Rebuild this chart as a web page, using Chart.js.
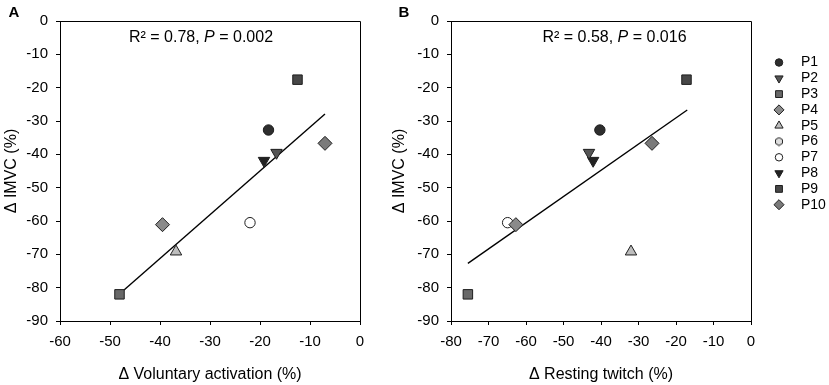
<!DOCTYPE html>
<html>
<head>
<meta charset="utf-8">
<script src="https://cdn.jsdelivr.net/npm/chart.js@4/dist/chart.umd.min.js"></script>
<style>
body{margin:0;background:#fff;width:829px;height:385px;position:relative;overflow:hidden;}
#chartA{position:absolute;left:0;top:0;}
#chartB{position:absolute;left:388px;top:0;}
</style>
</head>
<body>
<canvas id="chartA" width="388" height="385"></canvas>
<canvas id="chartB" width="441" height="385"></canvas>
<script>
// values
let participants = ["P1", "P2", "P3", "P4", "P5", "P6", "P7", "P8", "P9", "P10"];
let imvc = [-32.7, -39.5, -82.0, -61.1, -69.2, null, -60.5, -41.9, -17.6, -36.7];
let voluntaryActivation = [-18.3, -16.7, -48.1, -39.5, -36.8, null, -22.0, -19.2, -12.5, -7.0];
let restingTwitch = [-40.3, -43.2, -75.5, -62.7, -32.0, null, -64.9, -42.1, -17.2, -26.4];
let fitA_x = [-47.2, -7.0];
let fitA_y = [-80.7, -27.9];
let fitB_x = [-75.5, -17.0];
let fitB_y = [-72.7, -26.7];
let rSquared = ["0.78", "0.58"];
let pValues = ["0.002", "0.016"];
let yTicks = [0, -10, -20, -30, -40, -50, -60, -70, -80, -90];

// marker styles per participant
let fills = ["#2e2e2e", "#555555", "#686868", "#8a8a8a", "#bdbdbd", "#dedede", "#ffffff", "#222222", "#474747", "#7a7a7a"];
let shapes = ["circle", "triangle", "rect", "rectRot", "triangle", "hex", "circle", "triangle", "rect", "rectRot"];
let turns = [0, 180, 0, 0, 0, 0, 0, 180, 0, 0];
let sizes = [5.2, 6.6, 6.7, 7, 6.6, 5.5, 5.2, 6.6, 6.7, 7];

let FONT = "'Liberation Sans', Arial, sans-serif";
Chart.defaults.font.family = FONT;
Chart.defaults.color = "#000";

function makeHex(r, fill){
  let c = document.createElement("canvas");
  c.width = c.height = Math.ceil(2*r + 2);
  let ctx = c.getContext("2d");
  let m = c.width/2;
  ctx.beginPath();
  for(let k=0;k<6;k++){
    let a = Math.PI/6 + k*Math.PI/3;
    let px = m + r*Math.cos(a), py = m + r*Math.sin(a);
    if(k==0) ctx.moveTo(px,py); else ctx.lineTo(px,py);
  }
  ctx.closePath();
  ctx.fillStyle = fill; ctx.fill();
  ctx.strokeStyle = "#222"; ctx.lineWidth = 1; ctx.stroke();
  return c;
}
let hexBig = makeHex(5.5, fills[5]);
let hexSmall = makeHex(4, fills[5]);

function pointSets(xs){
  let sets = [];
  for(let i=0;i<participants.length;i++){
    sets.push({
      label: participants[i],
      data: xs[i] == null ? [] : [{x: xs[i], y: imvc[i]}],
      pointStyle: shapes[i] == "hex" ? hexBig : shapes[i],
      rotation: turns[i],
      pointRadius: sizes[i],
      pointHoverRadius: sizes[i],
      backgroundColor: fills[i],
      borderColor: "#1e1e1e",
      borderWidth: 1
    });
  }
  return sets;
}

function fitSet(fx, fy){
  return {
    label: "fit",
    data: fx.map((x,i) => ({x: x, y: fy[i]})),
    showLine: true,
    borderColor: "#000",
    borderWidth: 1.4,
    pointRadius: 0,
    pointHoverRadius: 0
  };
}

let decor = {
  id: "decor",
  afterDraw(chart, args, opts){
    let ctx = chart.ctx, a = chart.chartArea;
    ctx.save();
    // frame top and right
    ctx.strokeStyle = "#000"; ctx.lineWidth = 1;
    ctx.beginPath();
    ctx.moveTo(Math.round(a.left), Math.round(a.top)+0.5);
    ctx.lineTo(Math.round(a.right)+0.5, Math.round(a.top)+0.5);
    ctx.lineTo(Math.round(a.right)+0.5, Math.round(a.bottom));
    ctx.stroke();
    // panel letter
    ctx.fillStyle = "#000";
    ctx.font = "bold 15px " + FONT;
    ctx.textAlign = "center"; ctx.textBaseline = "middle";
    ctx.fillText(opts.letter, opts.letterX, 13);
    // statistics line
    let parts = [["R\u00b2 = " + opts.r2 + ", ", ""], ["P", "italic "], [" = " + opts.p, ""]];
    let w = 0;
    parts.forEach(p => { ctx.font = p[1] + "16px " + FONT; w += ctx.measureText(p[0]).width; });
    let x = a.left + opts.statX - w/2;
    ctx.textAlign = "left"; ctx.textBaseline = "alphabetic";
    parts.forEach(p => {
      ctx.font = p[1] + "16px " + FONT;
      ctx.fillText(p[0], x, 41.5);
      x += ctx.measureText(p[0]).width;
    });
    // legend
    if(opts.legend){
      ctx.font = "14px " + FONT;
      ctx.textBaseline = "middle";
      for(let i=0;i<participants.length;i++){
        let ly = 62.5 + i*15.8;
        let lx = 391;
        ctx.fillStyle = fills[i]; ctx.strokeStyle = "#1e1e1e"; ctx.lineWidth = 1;
        if(shapes[i] == "hex"){
          ctx.drawImage(hexSmall, lx - hexSmall.width/2, ly - hexSmall.height/2);
        } else if(Chart.helpers && Chart.helpers.drawPoint){
          Chart.helpers.drawPoint(ctx, {pointStyle: shapes[i], rotation: turns[i], radius: sizes[i]*0.72, borderWidth: 1}, lx, ly);
        } else {
          ctx.beginPath(); ctx.arc(lx, ly, 3.6, 0, Math.PI*2); ctx.fill(); ctx.stroke();
        }
        ctx.fillStyle = "#000";
        ctx.fillText(participants[i], 413, ly);
      }
    }
    ctx.restore();
  }
};

function axis(min, title, fitSize, horizontal){
  return {
    type: "linear",
    min: min, max: 0,
    afterBuildTicks: horizontal ? undefined : (s => { s.ticks = yTicks.map(v => ({value: v})); }),
    ticks: {stepSize: 10, color: "#000", font: {size: 15}, padding: horizontal ? 8 : 8, maxRotation: 0, autoSkip: false},
    grid: {drawOnChartArea: false, drawTicks: true, tickLength: 4, color: "#000", lineWidth: 1},
    border: {display: true, color: "#000", width: 1},
    title: {display: true, text: title, color: "#000", font: {size: 16}, padding: horizontal ? {top: 0, bottom: 1} : {top: 2, bottom: 0}},
    afterFit: s => { if(horizontal) s.height = fitSize; else s.width = fitSize; }
  };
}

function makeChart(id, xs, xMin, fx, fy, xTitle, yWidth, rightPad, decorOpts){
  new Chart(document.getElementById(id), {
    type: "scatter",
    data: {datasets: pointSets(xs).concat([fitSet(fx, fy)])},
    options: {
      responsive: false,
      animation: false,
      layout: {padding: {top: 21, right: rightPad, left: 0, bottom: 0}},
      plugins: {legend: {display: false}, tooltip: {enabled: false}, decor: decorOpts},
      scales: {
        x: axis(xMin, xTitle, 64, true),
        y: axis(-90, "\u0394 IMVC (%)", yWidth, false)
      }
    },
    plugins: [decor]
  });
}

makeChart("chartA", voluntaryActivation, -60, fitA_x, fitA_y, "\u0394 Voluntary activation (%)", 60, 28,
  {letter: "A", letterX: 14, r2: rSquared[0], p: pValues[0], statX: 141, legend: false});
makeChart("chartB", restingTwitch, -80, fitB_x, fitB_y, "\u0394 Resting twitch (%)", 63, 78,
  {letter: "B", letterX: 16, r2: rSquared[1], p: pValues[1], statX: 163.5, legend: true});
</script>
</body>
</html>
